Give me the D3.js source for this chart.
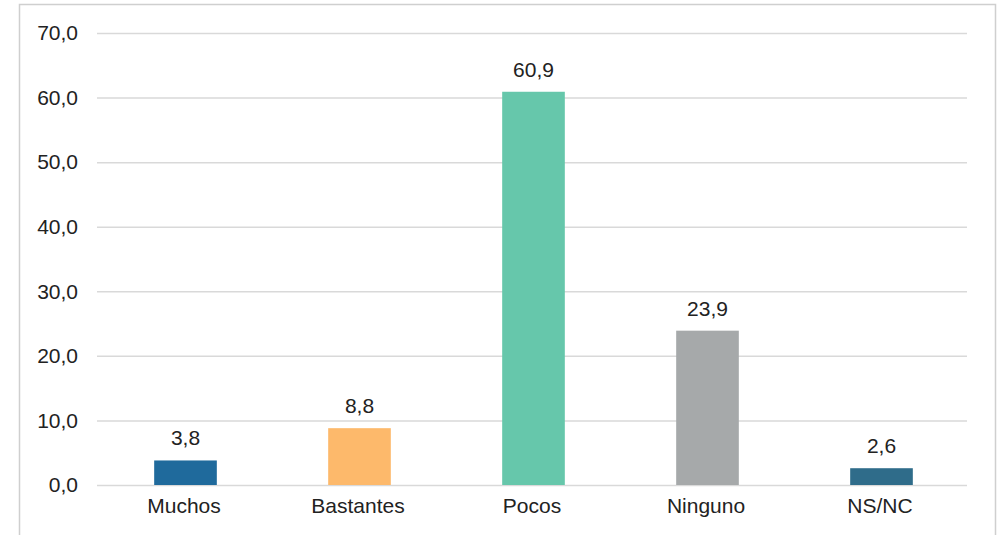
<!DOCTYPE html>
<html><head><meta charset="utf-8">
<script src="https://cdn.jsdelivr.net/npm/d3@7"></script>
<style>body{margin:0;background:#fff;} svg{display:block;}</style>
</head><body>
<script>
const categories = ["Muchos", "Bastantes", "Pocos", "Ninguno", "NS/NC"];
const values = [3.8, 8.8, 60.9, 23.9, 2.6];
const colors = ["#1f6a9c", "#fdb96b", "#66c7ab", "#a6a9aa", "#2f6c8a"];
const yTicks = [0, 10, 20, 30, 40, 50, 60, 70];

const W = 998, H = 535;
const svg = d3.select("body").append("svg").attr("width", W).attr("height", H);
const fmt = v => d3.format(".1f")(v).replace(".", ",");

svg.append("rect").attr("x", 19.5).attr("y", 4.5).attr("width", 976).attr("height", 540)
  .attr("fill", "#fff").attr("stroke", "#cfcfcf").attr("stroke-width", 1.5);

const m = {left: 97, right: 967, top: 33, bottom: 485};
const x = d3.scaleBand().domain(categories).range([m.left, m.right]).paddingInner(0.64).paddingOuter(0.32);
const y = d3.scaleLinear().domain([0, 70]).range([m.bottom, m.top]);

const font = "Liberation Sans, Arial, Helvetica, sans-serif";
const fs = "21px";

const yAxis = d3.axisLeft(y).tickValues(yTicks).tickFormat(fmt).tickSize(-(m.right - m.left)).tickPadding(19);
const gy = svg.append("g").attr("transform", `translate(${m.left},0)`).call(yAxis);
gy.select(".domain").remove();
gy.selectAll(".tick line").attr("stroke", "#d9d9d9").attr("stroke-width", 1.5);
gy.selectAll(".tick text").attr("fill", "#222").style("font-family", font).style("font-size", fs);

const xAxis = d3.axisBottom(x).tickSize(0).tickPadding(13);
const gx = svg.append("g").attr("transform", `translate(0,${m.bottom})`).call(xAxis);
gx.select(".domain").remove();
gx.selectAll(".tick text").attr("fill", "#222").style("font-family", font).style("font-size", fs);

svg.selectAll("rect.bar").data(values).enter().append("rect").attr("class", "bar")
  .attr("x", (d, i) => x(categories[i]) + 1.5).attr("width", x.bandwidth())
  .attr("y", d => y(d)).attr("height", d => y(0) - y(d))
  .attr("fill", (d, i) => colors[i]);

svg.selectAll("text.val").data(values).enter().append("text").attr("class", "val")
  .attr("x", (d, i) => x(categories[i]) + 1.5 + x.bandwidth() / 2)
  .attr("y", d => y(d) - 15)
  .attr("text-anchor", "middle").attr("fill", "#222")
  .style("font-family", font).style("font-size", fs)
  .text(fmt);
</script>
</body></html>
